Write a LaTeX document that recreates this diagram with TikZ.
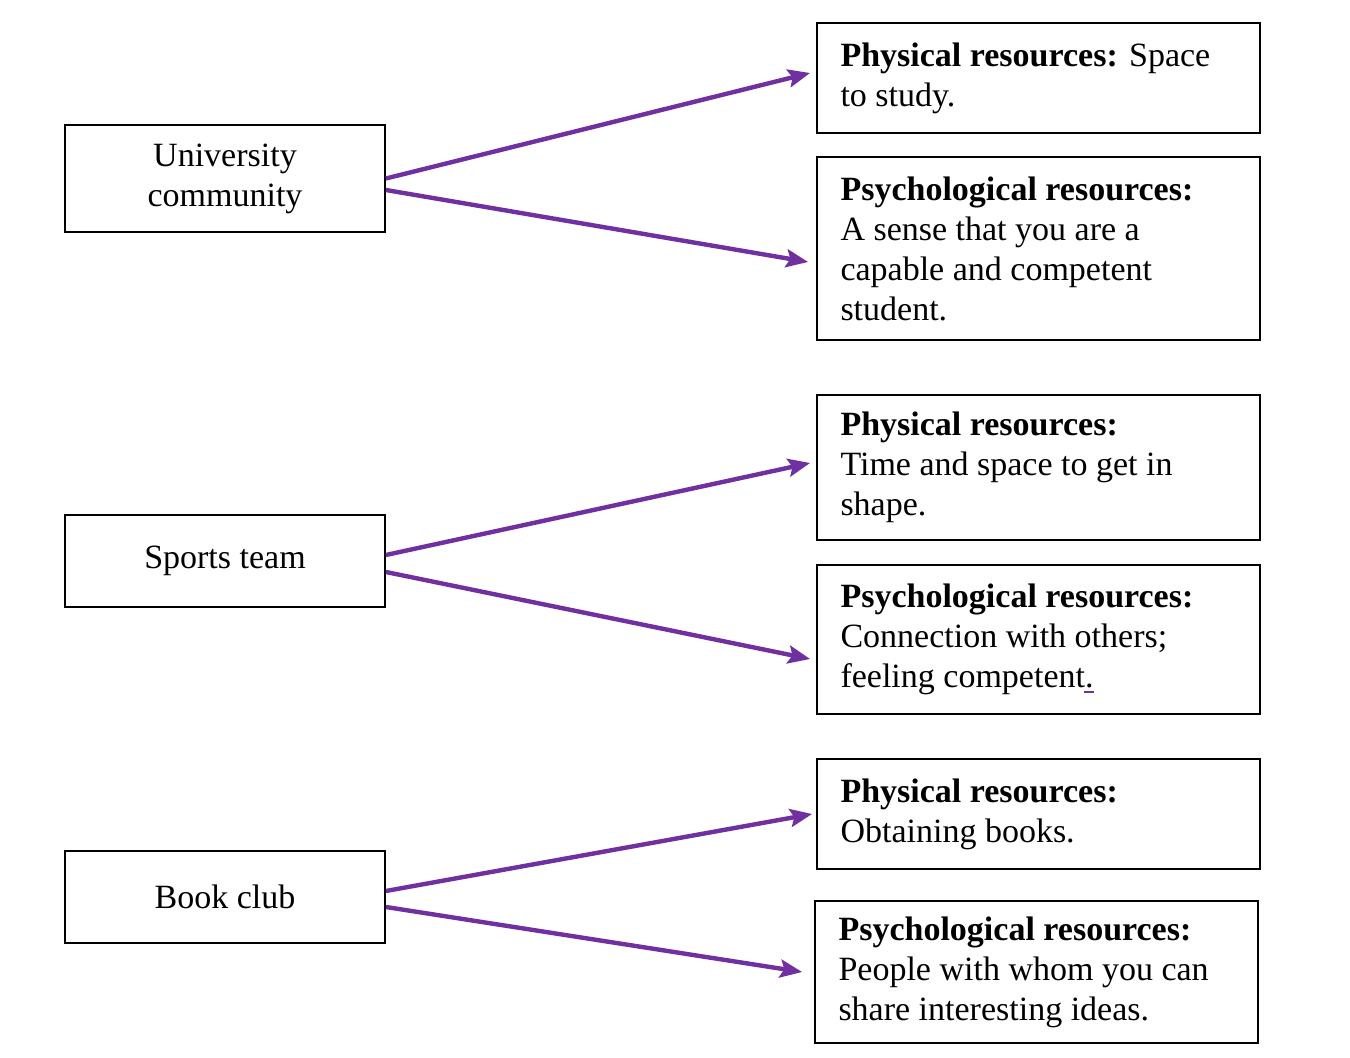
\documentclass[tikz,border=0pt]{standalone}
\usepackage{fontspec}
\setmainfont{Liberation Serif}
\usepackage{xcolor}
\usepackage{tikz}
\usetikzlibrary{arrows.meta,positioning}
\definecolor{violet}{HTML}{7030A0}
\newcommand{\res}[1]{\textbf{#1}}
\tikzset{
  box/.style={rectangle, draw=black, line width=0.9pt, fill=white, inner sep=0pt,
              font=\fontsize{17}{20}\selectfont},
  srcbox/.style={box, minimum width=160pt, align=center},
  resbox/.style={box, minimum width=221.5pt, text width=198pt, align=flush left},
  flow/.style={-{Stealth[length=11pt,width=9pt,inset=2pt]}, draw=violet, line width=2.2pt},
}

\begin{document}
\begin{tikzpicture}[x=0.5pt,y=-0.5pt]
\useasboundingbox (0,0) rectangle (1350,1058);

% sources
\node[srcbox, minimum height=53.5pt] (uni) at (225,178.5) {University\\community};
\node[srcbox, minimum height=46pt] (sport) at (225,561) {Sports team};
\node[srcbox, minimum height=46pt] (book) at (225,897) {Book club};

% resources
\node[resbox, minimum height=55pt] (uniphys) at (1038.5,78)
  {\res{Physical resources:} Space\\to study.};
\node[resbox, minimum height=91.5pt] (unipsy) at (1038.5,248.5)
  {\res{Psychological resources:}\\A sense that you are a\\capable and competent\\student.};
\node[resbox, minimum height=72.5pt] (sportphys) at (1038.5,467.5)
  {\res{Physical resources:}\\Time and space to get in\\shape.};
\node[resbox, minimum height=74.5pt] (sportpsy) at (1038.5,639.5)
  {\res{Psychological resources:}\\Connection with others;\\feeling competent.\llap{\textcolor{violet}{\rule[-2.5pt]{5pt}{0.8pt}}}};
\node[resbox, minimum height=55pt] (bookphys) at (1038.5,814)
  {\res{Physical resources:}\\Obtaining books.};
\node[resbox, minimum height=71pt] (bookpsy) at (1036.5,972)
  {\res{Psychological resources:}\\People with whom you can\\share interesting ideas.};

% arrows
\draw[flow] (uni.east) -- ([xshift=-3pt,yshift=2.5pt]uniphys.west);
\draw[flow] ([yshift=-5.75pt]uni.east) -- ([xshift=-4pt,yshift=-6.75pt]unipsy.west);
\draw[flow] ([yshift=3pt]sport.east) -- ([xshift=-3pt,yshift=2.25pt]sportphys.west);
\draw[flow] ([yshift=-5.5pt]sport.east) -- ([xshift=-3pt,yshift=-9.75pt]sportpsy.west);
\draw[flow] ([yshift=3pt]book.east) -- ([xshift=-2pt,yshift=0pt]bookphys.west);
\draw[flow] ([yshift=-5pt]book.east) -- ([xshift=-6pt,yshift=0pt]bookpsy.west);
\end{tikzpicture}
\end{document}
